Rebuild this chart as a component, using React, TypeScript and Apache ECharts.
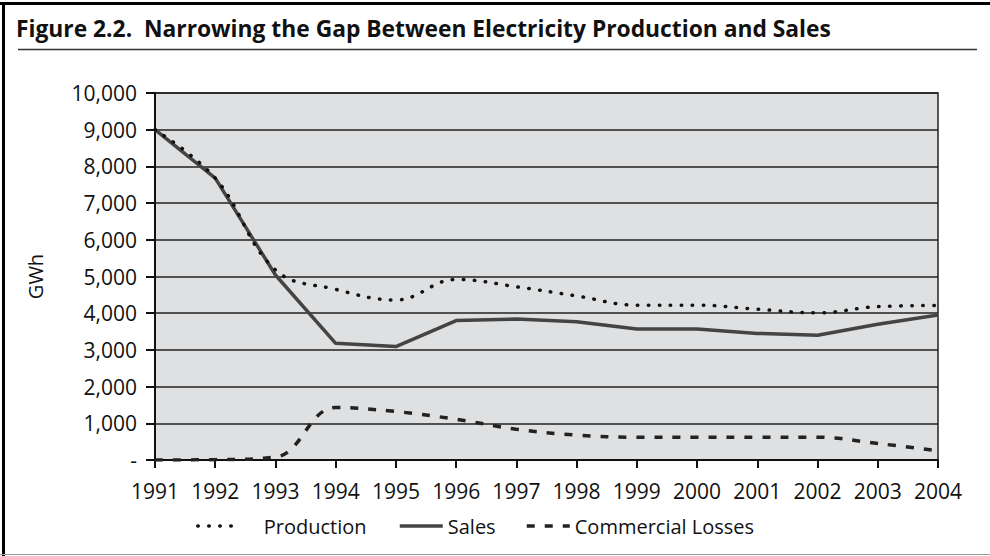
import React, { useEffect, useRef } from "react";
import * as echarts from "echarts";

const years = ["1991","1992","1993","1994","1995","1996","1997","1998","1999","2000","2001","2002","2003","2004"];
const production = [9000, 7680, 5180, 4650, 4360, 4920, 4720, 4470, 4220, 4220, 4110, 4010, 4180, 4210];
const sales = [9000, 7680, 5040, 3180, 3090, 3800, 3840, 3770, 3570, 3570, 3450, 3400, 3700, 3950];
const losses = [0, 10, 80, 1430, 1320, 1110, 840, 680, 620, 620, 620, 620, 450, 250];
const titleText = "Figure 2.2.  Narrowing the Gap Between Electricity Production and Sales";

const FONT = "'Open Sans', sans-serif";

export default function App() {
  const ref = useRef<HTMLDivElement>(null);
  useEffect(() => {
    document.body.style.margin = "0";
    const chart = echarts.init(ref.current!, null, { renderer: "svg" });
    const legendText = { fontFamily: FONT, fontSize: 20, color: "#111" };
    const hiddenSymbol = { opacity: 0, color: "transparent", borderWidth: 0 };
    chart.setOption({
      animation: false,
      backgroundColor: "#fff",
      textStyle: { fontFamily: FONT },
      title: {
        text: titleText,
        left: 11,
        top: 12,
        textStyle: { fontFamily: FONT, fontSize: 22.8, fontWeight: "bold", color: "#111" },
      },
      graphic: [
        { type: "line", shape: { x1: 0, y1: 3.5, x2: 990, y2: 3.5 }, style: { stroke: "#000", lineWidth: 3 } },
        { type: "line", shape: { x1: 3.5, y1: 2, x2: 3.5, y2: 556 }, style: { stroke: "#000", lineWidth: 3 } },
        { type: "line", shape: { x1: 0, y1: 554.5, x2: 990, y2: 554.5 }, style: { stroke: "#999", lineWidth: 1 } },
        { type: "line", shape: { x1: 18, y1: 49.5, x2: 977, y2: 49.5 }, style: { stroke: "#333", lineWidth: 1.5 } },
      ],
      legend: [
        {
          data: ["Production"], left: 191, top: 511, itemWidth: 35, itemHeight: 14,
          itemStyle: hiddenSymbol,
          lineStyle: { width: 3.5 },
          textStyle: { ...legendText, padding: [0, 0, 0, 26] },
        },
        {
          data: ["Sales"], left: 393, top: 511, itemWidth: 43, itemHeight: 14,
          itemStyle: hiddenSymbol,
          lineStyle: { width: 3.5 },
          textStyle: legendText,
        },
        {
          data: ["Commercial Losses"], left: 520, top: 511, itemWidth: 43, itemHeight: 14,
          itemStyle: hiddenSymbol,
          lineStyle: { width: 3.5 },
          textStyle: legendText,
        },
      ],
      grid: {
        left: 155, right: 52, top: 93, bottom: 96,
        show: true, backgroundColor: "#dfe0e2", borderColor: "#222", borderWidth: 1.5,
      },
      xAxis: {
        type: "category",
        data: years,
        boundaryGap: false,
        axisLine: { lineStyle: { color: "#111", width: 2 } },
        axisTick: { show: true, length: 8, lineStyle: { color: "#111", width: 2 } },
        axisLabel: { fontFamily: FONT, fontSize: 21, color: "#111", margin: 20, interval: 0 },
      },
      yAxis: {
        type: "value",
        min: 0,
        max: 10000,
        interval: 1000,
        name: "GWh",
        nameLocation: "middle",
        nameRotate: 90,
        nameGap: 110,
        nameTextStyle: { fontFamily: FONT, fontSize: 20, color: "#111" },
        axisLine: { show: true, lineStyle: { color: "#111", width: 2 } },
        axisTick: { show: true, length: 9, lineStyle: { color: "#111", width: 2 } },
        axisLabel: {
          fontFamily: FONT, fontSize: 21, color: "#111", margin: 18,
          formatter: (v: number) => (v === 0 ? "-" : v.toLocaleString("en-US")),
        },
        splitLine: { show: true, lineStyle: { color: "#222", width: 1.5 } },
      },
      series: [
        {
          name: "Production", type: "line", data: production, smooth: 0.4,
          symbol: "none", showSymbol: false, z: 3,
          itemStyle: { color: "#111" },
          lineStyle: { color: "#111", width: 3.5, type: [0.5, 10.5], cap: "round" },
        },
        {
          name: "Sales", type: "line", data: sales, smooth: false,
          symbol: "none", showSymbol: false, z: 2,
          itemStyle: { color: "#444" },
          lineStyle: { color: "#444", width: 3.5, type: "solid" },
        },
        {
          name: "Commercial Losses", type: "line", data: losses, smooth: 0.4,
          symbol: "none", showSymbol: false, z: 2,
          itemStyle: { color: "#222" },
          lineStyle: { color: "#222", width: 3.5, type: [8, 10] },
        },
      ],
    });
    return () => chart.dispose();
  }, []);
  return <div ref={ref} style={{ position: "fixed", left: 0, top: 0, width: 990, height: 556 }} />;
}
